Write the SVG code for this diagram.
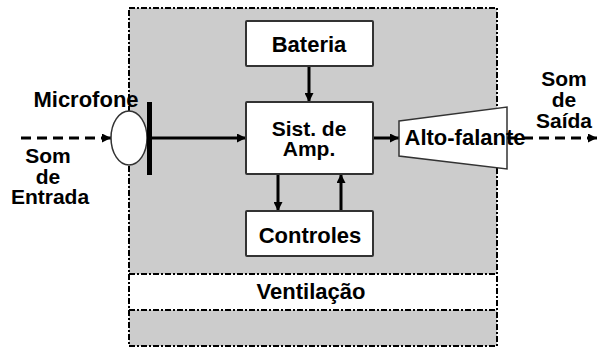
<svg xmlns="http://www.w3.org/2000/svg" width="599" height="348" viewBox="0 0 599 348">
<defs>
<marker id="ah" viewBox="0 0 10 10" refX="10" refY="5" markerWidth="10" markerHeight="9" markerUnits="userSpaceOnUse" orient="auto">
<path d="M0,0 L10,5 L0,10 Z" fill="#000"/>
</marker>
<style>
.t{font-family:"Liberation Sans",Arial,sans-serif;font-weight:bold;font-size:22px;fill:#000;text-anchor:middle}
.s{font-size:21px}
.box{fill:#fff;stroke:#333;stroke-width:2}
.dd{fill:none;stroke:#000;stroke-width:2;stroke-dasharray:6,2,2,2}
.c{stroke:#000;stroke-width:3;fill:none;marker-end:url(#ah)}
.d{stroke:#000;stroke-width:3;fill:none;stroke-dasharray:10,6;marker-end:url(#ah)}
</style>
</defs>
<rect width="599" height="348" fill="#fff"/>
<g id="enclosure">
<rect x="129" y="8" width="368" height="338" fill="#cccccc"/>
<rect x="129" y="274" width="368" height="36" fill="#fff"/>
<rect class="dd" x="129" y="8" width="368" height="338"/>
<line class="dd" x1="129" y1="274" x2="497" y2="274"/>
<line class="dd" x1="129" y1="310" x2="497" y2="310"/>
</g>
<g id="ventilacao">
<text class="t" x="311" y="299">Ventilação</text>
</g>
<g id="connectors">
<line class="d" x1="21" y1="138" x2="111" y2="138"/>
<line class="c" x1="152" y1="138" x2="246" y2="138"/>
<line class="c" x1="309" y1="66" x2="309" y2="102"/>
<line class="c" x1="278" y1="174" x2="278" y2="211"/>
<line class="c" x1="341" y1="211" x2="341" y2="174"/>
<line class="c" x1="373" y1="138" x2="399" y2="138"/>
<line class="d" x1="507" y1="138" x2="597" y2="138"/>
</g>
<g id="microfone">
<ellipse cx="129" cy="138" rx="18" ry="27" fill="#fff" stroke="#333" stroke-width="1.5"/>
<rect x="147" y="102" width="5" height="73" fill="#000"/>
<text class="t" x="86" y="107">Microfone</text>
</g>
<g id="som-entrada">
<text class="t s" x="48" y="163">Som</text>
<text class="t s" x="48" y="184">de</text>
<text class="t s" x="50" y="204">Entrada</text>
</g>
<g id="bateria">
<rect class="box" x="246" y="21" width="127" height="45" rx="1"/>
<text class="t" x="309" y="52">Bateria</text>
</g>
<g id="sist-amp">
<rect class="box" x="246" y="102" width="127" height="72" rx="1"/>
<text class="t s" x="309" y="136">Sist. de</text>
<text class="t s" x="309" y="156">Amp.</text>
</g>
<g id="controles">
<rect class="box" x="246" y="211" width="127" height="45" rx="1"/>
<text class="t" x="310" y="243">Controles</text>
</g>
<g id="alto-falante">
<path d="M399,121 L507,107 L507,169 L399,156 Z" fill="#fff" stroke="#333" stroke-width="1.5"/>
<text class="t" x="465" y="145">Alto-falante</text>
</g>
<g id="som-saida">
<text class="t s" x="564" y="86">Som</text>
<text class="t s" x="564" y="107">de</text>
<text class="t s" x="564" y="128">Saída</text>
</g>
</svg>
